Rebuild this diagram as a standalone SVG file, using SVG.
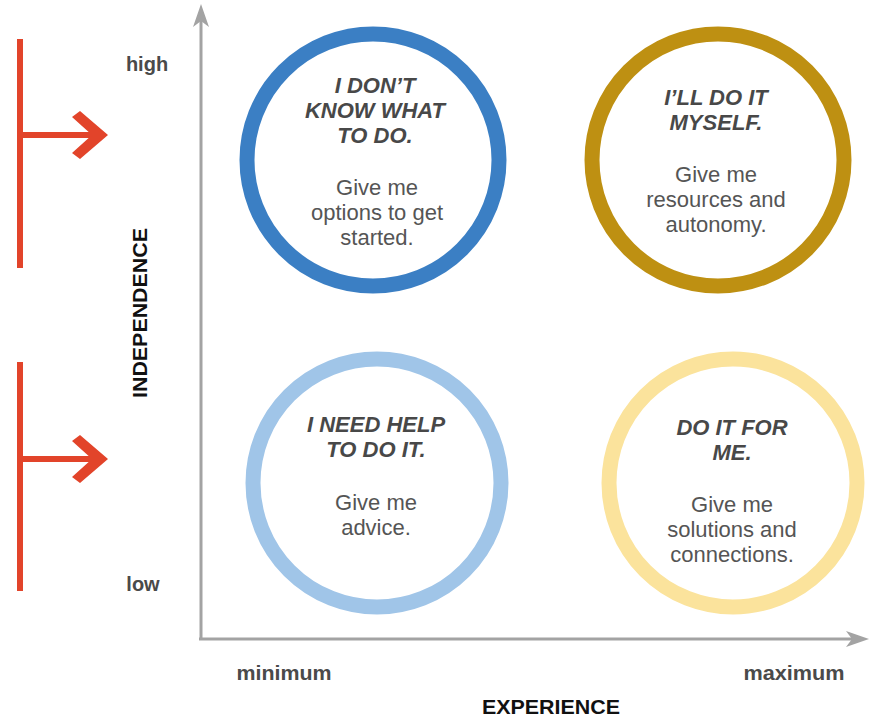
<svg xmlns="http://www.w3.org/2000/svg" width="875" height="717" viewBox="0 0 875 717">
  <style>
    .ring { fill: #ffffff; stroke-width: 15; }
    .head { font-family: "Liberation Sans", Arial, sans-serif; font-weight: bold; font-style: italic; font-size: 22px; fill: #484848; text-anchor: middle; }
    .body { font-family: "Liberation Sans", Arial, sans-serif; font-size: 22px; fill: #555555; text-anchor: middle; }
    .tick { font-family: "Liberation Sans", Arial, sans-serif; font-weight: bold; font-size: 20px; fill: #4a4a4a; text-anchor: middle; }
    .axis-title { font-family: "Liberation Sans", Arial, sans-serif; font-weight: bold; font-size: 21px; fill: #111111; text-anchor: middle; }
    .axis { stroke: #a3a3a3; stroke-width: 3; fill: none; }
    .red { stroke: #e2442a; stroke-width: 6; fill: none; }
  </style>

  <rect width="875" height="717" fill="#ffffff"/>

  <!-- indicator arrows on the left -->
  <g id="indicator-high">
    <line class="red" x1="20" y1="39" x2="20" y2="268"/>
    <line class="red" x1="20" y1="135" x2="96" y2="135" stroke-width="4.5"/>
    <path d="M108,135 L80,111 L72,117 L92,135 L72,153 L80,159 Z" fill="#e2442a"/>
  </g>
  <g id="indicator-low">
    <line class="red" x1="20" y1="362" x2="20" y2="591"/>
    <line class="red" x1="20" y1="459" x2="96" y2="459" stroke-width="4.5"/>
    <path d="M108,459 L80,435 L72,441 L92,459 L72,477 L80,483 Z" fill="#e2442a"/>
  </g>

  <!-- axes -->
  <g id="axes">
    <line class="axis" x1="201" y1="640" x2="201" y2="10"/>
    <path d="M201,4 L193,27 L201,21 L209,27 Z" fill="#a3a3a3"/>
    <line class="axis" x1="199" y1="639" x2="862" y2="639"/>
    <path d="M869,639 L846,631 L852,639 L846,647 Z" fill="#a3a3a3"/>
  </g>

  <!-- axis labels -->
  <g id="labels">
    <text class="tick" x="147" y="71">high</text>
    <text class="tick" x="143" y="591">low</text>
    <text class="tick" x="284" y="680" textLength="95" lengthAdjust="spacingAndGlyphs">minimum</text>
    <text class="tick" x="794" y="680" textLength="101" lengthAdjust="spacingAndGlyphs">maximum</text>
    <text class="axis-title" x="551" y="714" textLength="138" lengthAdjust="spacingAndGlyphs">EXPERIENCE</text>
    <text class="axis-title" transform="translate(147,313) rotate(-90)" textLength="170" lengthAdjust="spacingAndGlyphs">INDEPENDENCE</text>
  </g>

  <!-- quadrants -->
  <g id="dont-know">
    <circle class="ring" cx="373" cy="160" r="126" stroke="#3b7fc4"/>
    <text class="head" x="375" y="93">I DON’T</text>
    <text class="head" x="375" y="118">KNOW WHAT</text>
    <text class="head" x="375" y="143">TO DO.</text>
    <text class="body" x="377" y="195">Give me</text>
    <text class="body" x="377" y="220">options to get</text>
    <text class="body" x="377" y="245">started.</text>
  </g>

  <g id="do-it-myself">
    <circle class="ring" cx="718" cy="160" r="126" stroke="#be9012"/>
    <text class="head" x="716" y="105">I’LL DO IT</text>
    <text class="head" x="716" y="130">MYSELF.</text>
    <text class="body" x="716" y="182">Give me</text>
    <text class="body" x="716" y="207">resources  and</text>
    <text class="body" x="716" y="232">autonomy.</text>
  </g>

  <g id="need-help">
    <circle class="ring" cx="377" cy="483" r="124" stroke="#a0c5e8"/>
    <text class="head" x="376" y="432">I NEED HELP</text>
    <text class="head" x="376" y="457">TO DO IT.</text>
    <text class="body" x="376" y="510">Give me</text>
    <text class="body" x="376" y="535">advice.</text>
  </g>

  <g id="do-it-for-me">
    <circle class="ring" cx="733" cy="483" r="124" stroke="#fbe39c"/>
    <text class="head" x="732" y="435">DO IT FOR</text>
    <text class="head" x="732" y="460">ME.</text>
    <text class="body" x="732" y="512">Give me</text>
    <text class="body" x="732" y="537">solutions and</text>
    <text class="body" x="732" y="562">connections.</text>
  </g>
</svg>
